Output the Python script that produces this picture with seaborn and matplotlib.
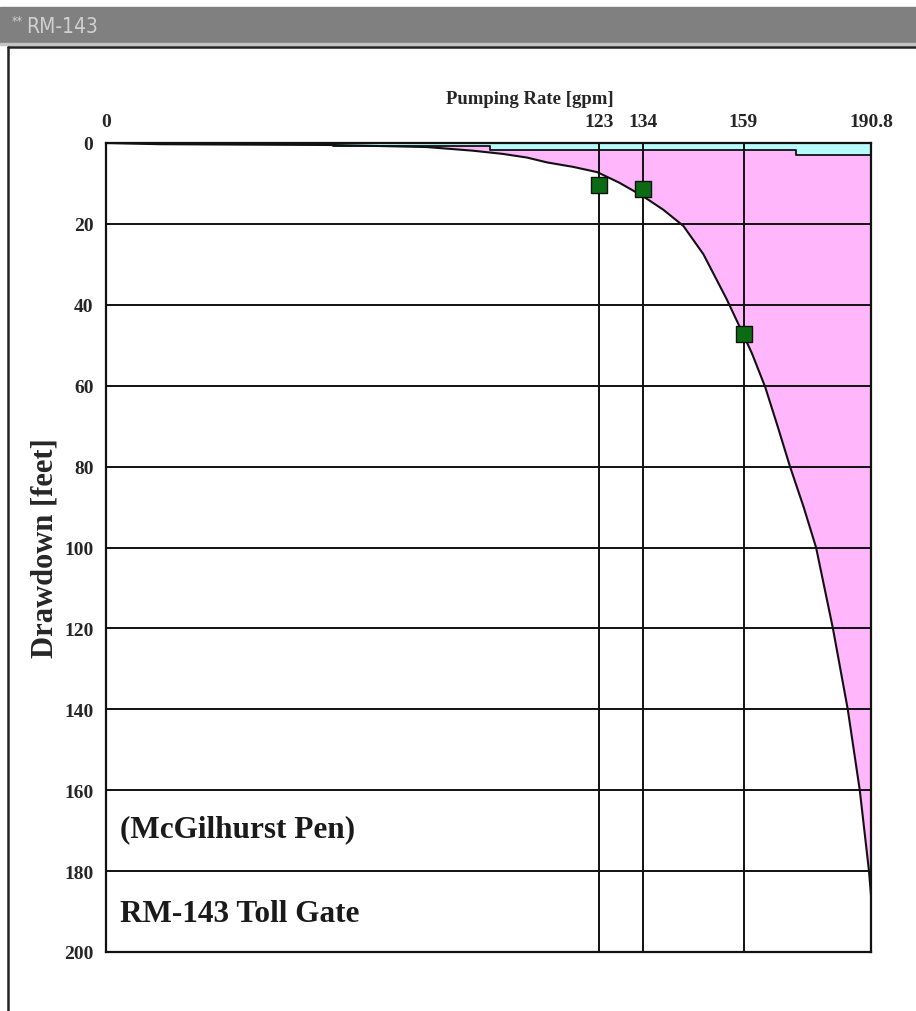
import numpy as np
import pandas as pd
import matplotlib
matplotlib.use("Agg")
import matplotlib.pyplot as plt
import matplotlib.patches as mpatches
import seaborn as sns

# ── data ────────────────────────────────────────────────────────────────
curve_rate = [0, 13.5, 56.6, 80, 91.5, 99, 105, 110, 116.5, 122.5, 128,
              134, 139, 144, 149, 154.8, 157.6, 159, 161.1, 164.4, 167.5,
              170.6, 174, 177.1, 181.3, 185, 188, 190.3, 190.8]
curve_drawdown = [0, 0.3, 0.5, 1.0, 1.9, 2.7, 3.6, 4.8, 5.9, 7.2, 9.8,
                  13.2, 16.5, 20.5, 27.5, 38.6, 44.5, 47.5, 52.0, 60.3,
                  70.0, 80.0, 90.0, 100.0, 120.0, 140.0, 160.0, 180.0,
                  186.0]

test_rate = [123, 134, 159]
test_drawdown = [10.3, 11.4, 47.2]

band_rate = [56.6, 95.8, 95.8, 172.0, 172.0, 190.8]
band_depth = [0.7, 0.7, 1.8, 1.8, 2.9, 2.9]

max_rate = 190.8
x_ticks = [0, 123, 134, 159, 190.8]
x_ticklabels = ["0", "123", "134", "159", "190.8"]
y_ticks = list(range(0, 201, 20))

notes = ["(McGilhurst Pen)", "RM-143 Toll Gate"]
note_pos = [(3.5, 169.5), (3.5, 190.5)]

PINK = "#ffb6fb"
CYAN = "#b8fbfb"
GREEN = "#0b6b12"
SERIF = ["Liberation Serif", "DejaVu Serif"]
CHROME_FONT = ["DejaVu Sans Condensed", "Liberation Sans Narrow",
               "DejaVu Sans"]

sns.set_style("white")
plt.rcParams["font.family"] = SERIF

fig = plt.figure(figsize=(9.16, 10.12), dpi=100)

# window chrome: grey title bar + left/top panel border
fig.patches.append(mpatches.Rectangle((0, 1 - 45 / 1012), 1, 37 / 1012,
                                      transform=fig.transFigure,
                                      color="#808080", zorder=0))
fig.patches.append(mpatches.Rectangle((0, 1 - 46 / 1012), 1, 2 / 1012,
                                      transform=fig.transFigure,
                                      color="#c4c4c4", zorder=0))
fig.add_artist(plt.Line2D([8 / 916, 1], [1 - 47.5 / 1012] * 2,
                          transform=fig.transFigure, color="#222", lw=1.8))
fig.add_artist(plt.Line2D([8 / 916] * 2, [0, 1 - 47.5 / 1012],
                          transform=fig.transFigure, color="#222", lw=1.8))
fig.text(12 / 916, 1 - 22 / 1012, "**", color="#d0d0d0",
         fontsize=9, va="center", ha="left", family=CHROME_FONT,
         fontstretch="condensed")
fig.text(26 / 916, 1 - 27 / 1012, "RM-143", color="#d0d0d0",
         fontsize=15, va="center", ha="left", family=CHROME_FONT,
         fontstretch="condensed")

ax = fig.add_axes([106 / 916, 59 / 1012, 765 / 916, 809 / 1012])

df = pd.DataFrame({"rate": curve_rate, "drawdown": curve_drawdown})

# pink region between curve and max rate, cyan band on top
ax.fill_betweenx(df["drawdown"], df["rate"], max_rate, color=PINK, lw=0,
                 zorder=1)
ax.fill_between(band_rate, 0, band_depth, color=CYAN, lw=0, zorder=2)
ax.plot(band_rate, band_depth, color="#111", lw=1.3, zorder=2.5)

# grid
for y in y_ticks[1:-1]:
    ax.axhline(y, color="#111", lw=1.4, zorder=3)
ax.vlines(test_rate, 0, 200, color="#111", lw=1.4, zorder=3)

sns.lineplot(data=df, x="rate", y="drawdown", sort=False, color="#111",
             lw=1.5, ax=ax, zorder=4)
sns.scatterplot(x=test_rate, y=test_drawdown, marker="s", s=120,
                color=GREEN, edgecolor="#111", linewidth=1.0, ax=ax,
                zorder=5)

for txt, (x, y) in zip(notes, note_pos):
    ax.text(x, y, txt, fontsize=22.5, fontweight="bold", va="center",
            ha="left", color="#1a1a1a", zorder=6)

ax.set_xlim(0, max_rate)
ax.set_ylim(200, 0)
ax.xaxis.tick_top()
ax.set_xticks(x_ticks)
ax.set_xticklabels(x_ticklabels, fontsize=14, fontweight="bold")
ax.set_yticks(y_ticks)
ax.set_yticklabels([str(v) for v in y_ticks], fontsize=14, fontweight="bold")
ax.tick_params(length=0, pad=9)
ax.set_xlabel("")
ax.set_ylabel("Drawdown [feet]", fontsize=22, fontweight="bold",
              labelpad=3)
fig.text(530 / 916, 1 - 100 / 1012, "Pumping Rate [gpm]", fontsize=13.5,
         fontweight="bold", ha="center", va="center")

for sp in ax.spines.values():
    sp.set_color("#111")
    sp.set_linewidth(1.6)
    sp.set_zorder(7)

fig.savefig("out.png", dpi=100)
plt.close(fig)
